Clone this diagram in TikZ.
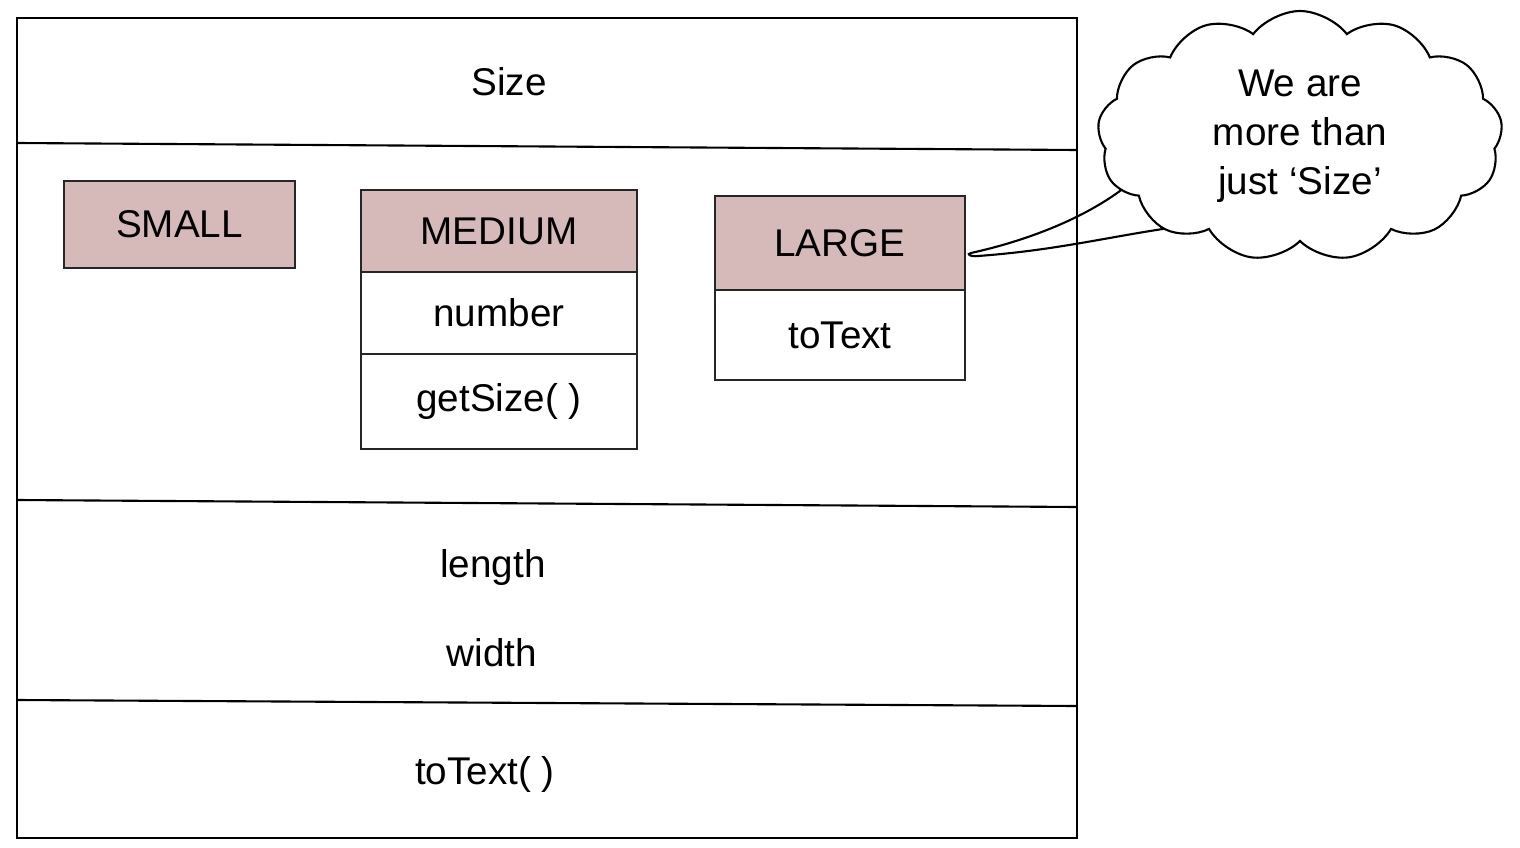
\documentclass[tikz,border=0pt]{standalone}
\usepackage{fontspec}
\setmainfont{Liberation Sans}
\usetikzlibrary{positioning,shapes.symbols,backgrounds}
\definecolor{headfill}{RGB}{213,186,185}
\tikzset{
    line cap=round,line join=round,
    every node/.style={font=\fontsize{11}{13.9}\selectfont},
    head box/.style={draw=black!85,fill=headfill,line width=0.6pt,
        outer sep=0pt,minimum width=#1},
    part box/.style={draw=black!85,fill=white,line width=0.6pt,
        outer sep=0pt,minimum width=#1},
    bubble/.style={cloud,draw,fill=white,line width=0.6pt,cloud puffs=13,
        cloud puff arc=105,aspect=1.6,inner sep=0pt,align=center,
        minimum width=40.5mm,minimum height=25mm},
}

\begin{document}
\begin{tikzpicture}[x=0.1mm,y=-0.1mm]
    \useasboundingbox (0,0) rectangle (1520,848);

    % outer class frame with its compartments
    \draw[line width=0.6pt] (17,18) rectangle (1077,838);
    \draw[line width=0.6pt] (17,143) -- (1077,150);
    \draw[line width=0.6pt] (17,500) -- (1077,507);
    \draw[line width=0.6pt] (17,700) -- (1077,706);

    \node (size) at (509,82) {Size};

    % enum constants
    \node[head box=23.1mm,minimum height=8.7mm] (small) at (179.5,224.5) {SMALL};

    \node[head box=27.6mm,minimum height=8.2mm] (medium) at (499,231) {MEDIUM};
    \node[part box=27.6mm,minimum height=8.2mm,below=0pt of medium] (number) {number};
    \node[part box=27.6mm,minimum height=9.5mm,below=0pt of number] (getsize) {getSize( )};

    \node[head box=25mm,minimum height=9.4mm] (large) at (840,243) {LARGE};
    \node[part box=25mm,minimum height=9mm,below=0pt of large] (totext) {toText};

    % fields and methods
    \node (length) at (493,567) {length};
    \node (width) at (492,653) {width};
    \node (totextm) at (485,774) {toText( )};

    % thought bubble
    \node[bubble] (cloud) at (1300,136) {We are\\more than\\just ‘Size’};
    \coordinate (tip) at (971,253);
    \begin{pgfonlayer}{background}
        \draw[line width=0.6pt,fill=white] ([xshift=3mm]cloud.192)
            .. controls (1095,215) and (1030,240) .. (tip)
            .. controls (966,254) and (970,257) .. (978,256)
            .. controls (1060,250) and (1110,236) .. ([xshift=3mm]cloud.212);
    \end{pgfonlayer}
\end{tikzpicture}
\end{document}
